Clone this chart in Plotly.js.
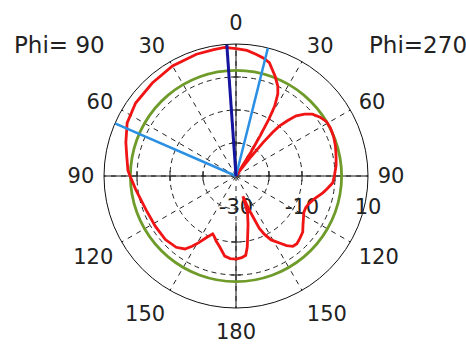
<!DOCTYPE html>
<html>
<head>
<meta charset="utf-8">
<script src="https://cdn.plot.ly/plotly-3.0.1.min.js"></script>
<style>html,body{margin:0;padding:0;background:#fff;}#chart{width:466px;height:348px;}</style>
</head>
<body>
<div id="chart"></div>
<script>
// Angular tick positions (phi, deg) and their printed labels
var angleTicks = [0, 30, 60, 90, 120, 150, 180, 210, 240, 270, 300, 330];
var angleLabels = ['0', '30', '60', '90', '120', '150', '180', '150', '120', '90', '60', '30'];
// Radial ticks (dB) and labels
var radialTicks = [-30, -20, -10, 0, 10];
var radialLabels = ['-30', '', '-10', '', '10'];

// Red pattern: phi (deg) and gain (dB)
var redPhi = [0, 5, 10, 18, 30, 42, 54, 64, 73, 80, 87, 90, 98, 111, 122, 132, 140, 145, 148, 151, 154, 158, 160, 163, 167, 172, 176, 180, 184, 187, 189, 190.8, 194, 197.3, 198.2, 198.8, 200.5, 201.9, 204, 206, 208.8, 213, 216, 219, 222, 226, 230, 234, 238, 242, 246, 250, 254, 259, 262, 266, 270, 276, 281, 287, 292, 297, 301, 305, 309, 312, 315, 317, 319, 320, 321, 322, 323.5, 325, 327, 328, 329, 330, 331, 333, 335, 338.5, 343.6, 347, 350.7, 355, 360];
var redGain = [8.6, 9.1, 8.9, 8.8, 8.5, 7.9, 7.6, 6.7, 4.9, 3.6, 2.8, 2.1, 0.6, -0.9, -1.2, -1.2, -1.8, -3.0, -4.9, -7.0, -9.1, -11.1, -10.6, -9.4, -8.0, -5.5, -4.9, -4.8, -5.2, -5.8, -8.2, -11.2, -14.9, -18.2, -21.5, -23.5, -20.9, -17.9, -12.7, -10.3, -7.9, -5.8, -3.9, -2.6, -2.4, -3.0, -3.6, -4.9, -5.9, -6.7, -6.8, -6.2, -5.2, -3.2, -2.1, -0.6, -0.2, 0.5, 0.9, 1.5, 1.9, 2.1, 2.0, 1.1, -0.2, -2.0, -4.2, -7.0, -10.0, -12.7, -17.0, -22.4, -27.6, -30.0, -28.2, -21.5, -15.8, -10.0, -5.8, -2.1, 0.0, 2.4, 5.8, 6.7, 7.4, 8.2, 8.6];

// Green reference circle
var greenPhi = [0, 20, 40, 60, 80, 100, 120, 140, 160, 180, 200, 220, 240, 260, 280, 300, 320, 340, 360];
var greenGain = [2, 2, 2, 2, 2, 2, 2, 2, 2, 2, 2, 2, 2, 2, 2, 2, 2, 2, 2];

// Blue marker lines
var darkBluePhi = [4, 4];
var darkBlueGain = [-30, 10];
var lightBluePhi = [66.5, 66.5, null, 346, 346];
var lightBlueGain = [10, -30, null, -30, 10];

// Solid cross axes
var crossPhi = [0, 0, null, 180, 180, null, 90, 90, null, 270, 270];
var crossGain = [-30, 10, null, -16, 10, null, -30, 10, null, -30, 10];
// Small ticks on the cross axes
var hTickPhi = [90, 90, 90, 270, 270, 270];
var hTickGain = [-20, -10, 0, -20, -10, 0];
var vTickPhi = [0, 0, 0, 180, 180];
var vTickGain = [-20, -10, 0, -10, 0];

var FONT = 'DejaVu Sans, sans-serif';

var traces = [
  {type: 'scatterpolar', mode: 'lines', theta: crossPhi, r: crossGain,
   line: {color: '#111', width: 1}, hoverinfo: 'skip', showlegend: false},
  {type: 'scatterpolar', mode: 'markers', theta: hTickPhi, r: hTickGain,
   marker: {symbol: 'line-ns', size: 7, line: {color: '#111', width: 1}}, hoverinfo: 'skip', showlegend: false},
  {type: 'scatterpolar', mode: 'markers', theta: vTickPhi, r: vTickGain,
   marker: {symbol: 'line-ew', size: 7, line: {color: '#111', width: 1}}, hoverinfo: 'skip', showlegend: false},
  {type: 'scatterpolar', mode: 'lines', theta: greenPhi, r: greenGain,
   line: {color: '#6f9b2a', width: 2.8, shape: 'spline'}, showlegend: false},
  {type: 'scatterpolar', mode: 'lines', theta: redPhi, r: redGain,
   line: {color: '#f01414', width: 2.8}, showlegend: false},
  {type: 'scatterpolar', mode: 'lines', theta: lightBluePhi, r: lightBlueGain,
   line: {color: '#2b8fe3', width: 2.5}, showlegend: false},
  {type: 'scatterpolar', mode: 'lines', theta: darkBluePhi, r: darkBlueGain,
   line: {color: '#14149e', width: 3}, showlegend: false}
];

var layout = {
  width: 466, height: 348,
  margin: {l: 0, r: 0, t: 0, b: 0},
  paper_bgcolor: '#fff',
  showlegend: false,
  font: {family: FONT, size: 21, color: '#222'},
  polar: {
    domain: {x: [104/466, 368/466], y: [40/348, 304/348]},
    bgcolor: '#fff',
    radialaxis: {
      range: [-30, 10], tickvals: radialTicks, ticktext: radialLabels,
      angle: 0, side: 'clockwise', showline: false,
      ticks: 'outside', ticklen: 12, tickcolor: 'rgba(0,0,0,0)',
      showgrid: true, gridcolor: '#222', griddash: '5px,4px', gridwidth: 1,
      tickfont: {family: FONT, size: 21, color: '#222'},
      layer: 'below traces'
    },
    angularaxis: {
      rotation: 90, direction: 'counterclockwise',
      tickmode: 'array', tickvals: angleTicks, ticktext: angleLabels,
      showline: true, linecolor: '#111', linewidth: 1,
      showgrid: true, gridcolor: '#222', griddash: '5px,5px', gridwidth: 1,
      ticks: 'outside', ticklen: 5, tickcolor: 'rgba(0,0,0,0)',
      tickfont: {family: FONT, size: 21, color: '#222'},
      layer: 'below traces'
    }
  },
  annotations: [
    {text: 'Phi= 90', xref: 'paper', yref: 'paper', x: 12/466, y: 303/348,
     xanchor: 'left', yanchor: 'middle', showarrow: false, font: {family: FONT, size: 23, color: '#222'}},
    {text: 'Phi=270', xref: 'paper', yref: 'paper', x: 367/466, y: 303/348,
     xanchor: 'left', yanchor: 'middle', showarrow: false, font: {family: FONT, size: 23, color: '#222'}}
  ]
};

Plotly.newPlot('chart', traces, layout, {staticPlot: true, displayModeBar: false});
</script>
</body>
</html>
